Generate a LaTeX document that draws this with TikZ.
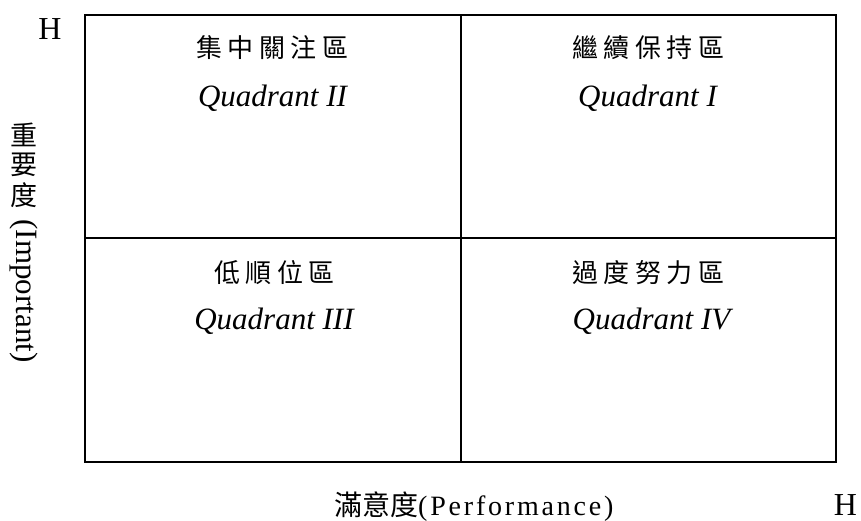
\documentclass[tikz,border=0pt]{standalone}
\usepackage{fontspec}
\setmainfont{Liberation Serif}
\newfontfamily\cjk{Noto Sans CJK TC}
\newcommand\gp{\hspace{5.5pt}}
\tikzset{
  frame/.style={line width=2.4pt, draw=black},
  zh/.style={font=\cjk\fontsize{26}{30}\selectfont, anchor=base, inner sep=0pt},
  quad/.style={font=\itshape\fontsize{31}{36}\selectfont, anchor=base, inner sep=0pt},
  hlab/.style={font=\fontsize{32}{36}\selectfont, anchor=base, inner sep=0pt},
  axzh/.style={font=\cjk\fontsize{27}{30}\selectfont, inner sep=0pt},
}
\begin{document}
\begin{tikzpicture}[x=1pt,y=-1pt]
\useasboundingbox (0,0) rectangle (861,521);
\coordinate (tl) at (85,15);
\coordinate (br) at (836,462);
\coordinate (mt) at (461,15);
\coordinate (mb) at (461,462);
\coordinate (ml) at (85,238);
\coordinate (mr) at (836,238);
\draw[frame] (tl) rectangle (br);
\draw[frame] (mt) -- (mb);
\draw[frame] (ml) -- (mr);
% quadrant labels
\node[zh] (z2) at (272.5,58) {集\gp{}中\gp{}關\gp{}注\gp{}區};
\node[quad] (q2) at (272.5,107) {Quadrant II};
\node[zh] (z1) at (648.5,58) {繼\gp{}續\gp{}保\gp{}持\gp{}區};
\node[quad] (q1) at (647.5,107) {Quadrant I};
\node[zh] (z3) at (274.5,282.5) {低\gp{}順\gp{}位\gp{}區};
\node[quad] (q3) at (274,329) {Quadrant III};
\node[zh] (z4) at (648.5,282.5) {過\gp{}度\gp{}努\gp{}力\gp{}區};
\node[quad] (q4) at (651.5,329) {Quadrant IV};
% axis labels
\node[hlab] (h1) at (50,40) {H};
\node[hlab] (h2) at (845.5,515) {H};
\node[axzh] (v1) at (24,135) {重};
\node[axzh] (v2) at (24,165) {要};
\node[axzh] (v3) at (24,195) {度};
\node[rotate=-90, font=\fontsize{31}{34}\selectfont, inner sep=0pt] (v4) at (24,291) {(Important)};
\node[anchor=base west, inner sep=0pt] (xl) at (334,515)
  {{\cjk\fontsize{28}{32}\selectfont 滿意度}{\addfontfeature{LetterSpace=10}\fontsize{28}{32}\selectfont(Performance)}};
\end{tikzpicture}
\end{document}
